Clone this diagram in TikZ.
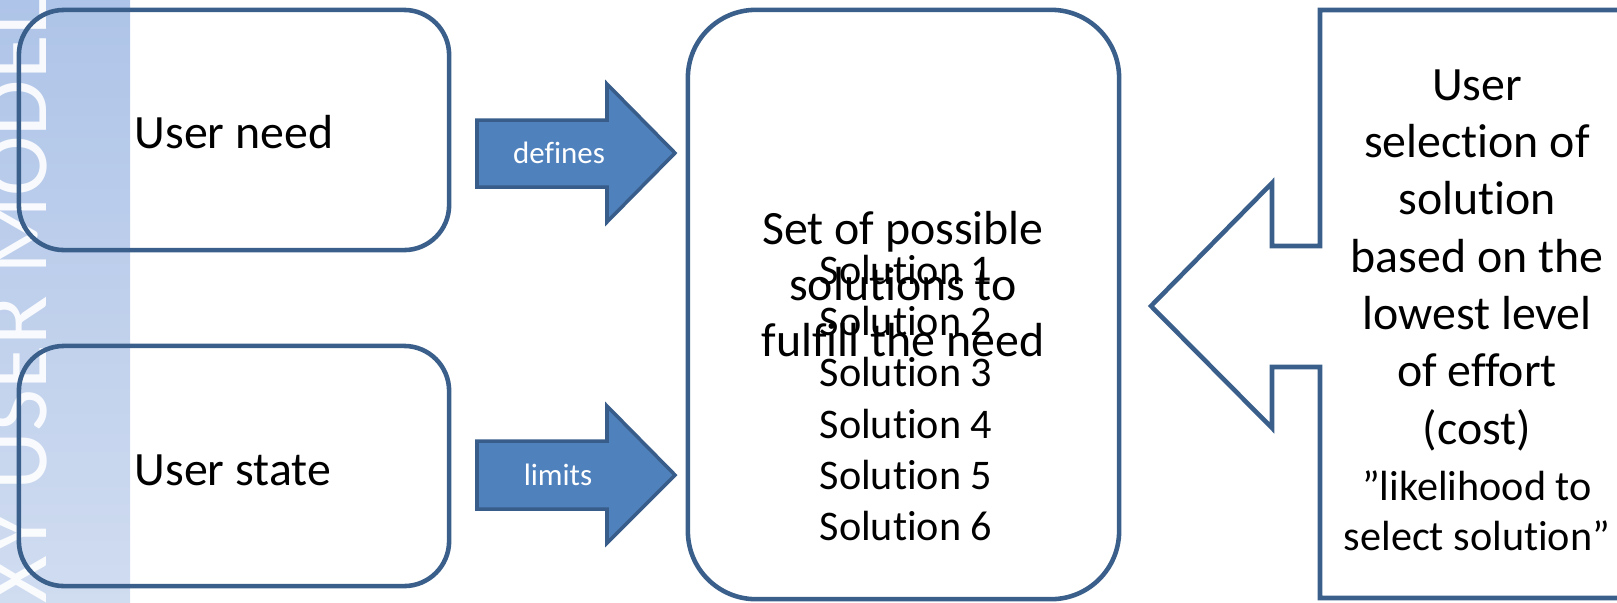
\documentclass[tikz,border=0pt]{standalone}
\usepackage{fontspec}
\setmainfont{Carlito}[Ligatures=NoCommon]
\newfontfamily\titlefam{Carlito}[Ligatures=NoCommon]
\usepackage{tikz}
\definecolor{boxline}{RGB}{58,95,139}
\definecolor{arrowfill}{RGB}{79,129,189}
\definecolor{arrowline}{RGB}{56,93,138}
\definecolor{stripTop}{RGB}{174,196,232}
\definecolor{stripBot}{RGB}{208,220,240}

\begin{document}
\begin{tikzpicture}[x=0.01cm, y=-0.01cm,
    roundbox/.style={draw=boxline, line width=1.3pt},
    blockarrow/.style={fill=arrowfill, draw=arrowline, line width=1pt, line join=miter},
    arrowlabel/.style={text=white, inner sep=0pt, font=\fontsize{8.8}{10}\selectfont},
    bigtext/.style={inner sep=0pt, align=center, font=\fontsize{13.6}{16}\selectfont},
    smalltext/.style={inner sep=0pt, align=center, font=\fontsize{12}{14.6}\selectfont}]
    \useasboundingbox (0,0) rectangle (1617,602);
    \clip (0,0) rectangle (1617,602);

    % Side strip with the rotated title
    \shade[top color=stripTop, bottom color=stripBot] (0,0) rectangle (130,602);
    \begin{scope}
        \clip (0,0) rectangle (130,602);
        \node[rotate=90, anchor=base east, inner sep=0pt, text=white, text opacity=0.9,
            font=\titlefam\fontsize{26}{30}\selectfont] (title) at (47,-4) {XY USER MODEL};
    \end{scope}

    % User need and user state
    \node[roundbox, rounded corners=0.45cm, minimum width=4.3cm, minimum height=2.4cm] (need) at (234,130) {};
    \node[bigtext, anchor=west] (needlbl) at (134,132) {User need};
    \node[roundbox, rounded corners=0.45cm, minimum width=4.3cm, minimum height=2.4cm] (state) at (234,466) {};
    \node[bigtext, anchor=west] (statelbl) at (134,470) {User state};

    % Block arrows
    \draw[blockarrow] (477,120) -- (607,120) -- (607,84) -- (675,153) -- (607,222) -- (607,187) -- (477,187) -- cycle;
    \node[arrowlabel] (deflbl) at (559,153) {defines};
    \draw[blockarrow] (477,441) -- (607,441) -- (607,406) -- (675,475) -- (607,543) -- (607,509) -- (477,509) -- cycle;
    \node[arrowlabel] (limlbl) at (558,475) {limits};

    % Set of solutions
    \node[roundbox, rounded corners=0.68cm, minimum width=4.31cm, minimum height=5.89cm] (sol) at (903.5,304.5) {};
    \node[bigtext] (setlbl) at (903,284) {Set of possible\\solutions to\\fulfill the need};
    \node[smalltext] (sollist) at (906,398) {Solution 1\\Solution 2\\Solution 3\\Solution 4\\Solution 5\\Solution 6};

    % Callout with the user choice
    \draw[roundbox, line join=miter] (1320,246) -- (1272,246) -- (1272,183) -- (1151,306) -- (1272,428)
        -- (1272,367) -- (1320,367) -- (1320,598) -- (1640,598) -- (1640,10) -- (1320,10) -- cycle;
    \node[bigtext, font=\fontsize{13.6}{16.3}\selectfont] (choicelbl) at (1477,260)
        {User\\selection of\\solution\\based on the\\lowest level\\of effort\\(cost)};
    \node[smalltext, font=\fontsize{12}{14.2}\selectfont] (likelbl) at (1477,511) {”likelihood to\\select solution”};
\end{tikzpicture}
\end{document}
